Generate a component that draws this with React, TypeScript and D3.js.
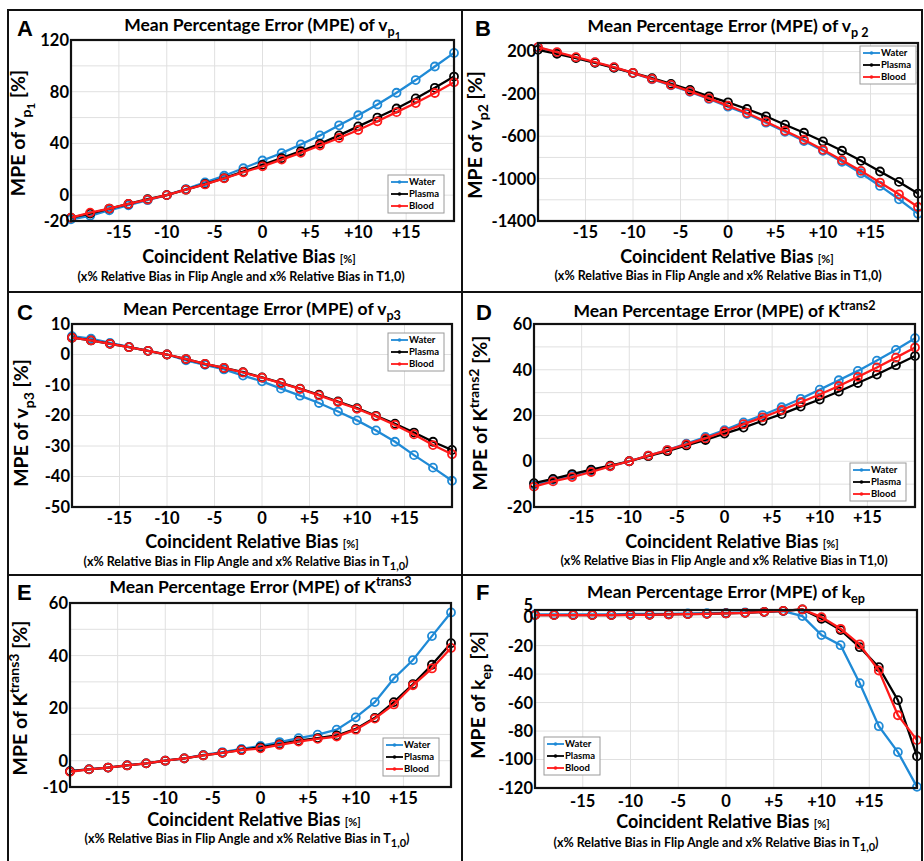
import React, { useEffect, useRef } from "react";
import * as d3 from "d3";

// coincident relative bias [%]
const biasX = [-20, -18, -16, -14, -12, -10, -8, -6, -4, -2, 0, 2, 4, 6, 8, 10, 12, 14, 16, 18, 20];
const xTicks = [-15, -10, -5, 0, 5, 10, 15];
const seriesNames = ["Water", "Plasma", "Blood"];
const seriesColors = ["#1f8ad6", "#000000", "#ff1a1a"];

// A: vp1
const vp1Water = [-18.7, -16, -11.7, -7.8, -3.9, 0, 4.7, 9.9, 15, 20.8, 26.8, 32.5, 39.2, 46.2, 54, 61.8, 70.1, 79.2, 89, 99.5, 110];
const vp1Plasma = [-17.4, -14.3, -10.4, -6.8, -3.1, 0, 4.2, 8.6, 13.2, 18.2, 23.4, 28.6, 34, 39.7, 46.2, 53.2, 60, 67, 74.8, 83, 91.7];
const vp1Blood = [-17.4, -13.5, -10.4, -6.8, -3.4, 0, 4.2, 8.3, 13, 17.7, 22.3, 27.5, 32.7, 38.4, 44.2, 50.4, 57.1, 64.2, 71.2, 79, 87.3];

// B: vp2
const vp2Water = [238, 190, 142, 96, 49, -4, -62, -120, -181, -248, -321, -390, -472, -558, -645, -737, -841, -949, -1069, -1195, -1331];
const vp2Plasma = [216, 178, 137, 93, 45, -2, -52, -106, -163, -223, -280, -343, -412, -491, -567, -649, -737, -832, -933, -1031, -1141];
const vp2Blood = [241, 194, 146, 99, 52, -2, -59, -116, -176, -242, -311, -381, -463, -548, -633, -728, -826, -927, -1037, -1148, -1268];

// C: vp3
const vp3Water = [6.0, 5.2, 3.8, 2.5, 1.2, 0, -1.9, -3.4, -4.9, -6.9, -8.8, -11.2, -13.5, -15.9, -18.7, -21.6, -24.9, -28.6, -33, -37.1, -41.4];
const vp3Plasma = [5.5, 4.6, 3.5, 2.4, 1.2, 0, -1.5, -3.1, -4.4, -5.8, -7.5, -9.3, -11.2, -13.2, -15.4, -17.6, -20.1, -22.7, -25.6, -28.6, -31.3];
const vp3Blood = [5.5, 4.6, 3.5, 2.4, 1.2, 0, -1.5, -3.1, -4.4, -5.9, -7.6, -9.4, -11.3, -13.4, -15.6, -17.8, -20.3, -23.1, -26.2, -29.7, -32.7];

// D: Ktrans2
const kt2Water = [-10.3, -8.1, -6.2, -4.1, -2.2, 0, 2.5, 4.9, 7.7, 10.6, 13.6, 17, 20.2, 23.6, 27.3, 31.3, 35.4, 39.5, 44, 48.7, 53.8];
const kt2Plasma = [-9.6, -7.7, -5.6, -3.7, -1.9, 0, 2.2, 4.4, 6.9, 9.3, 12.1, 14.7, 17.7, 20.6, 23.9, 27, 30.5, 34.2, 37.9, 42, 46];
const kt2Blood = [-11.1, -8.8, -6.9, -4.7, -2.2, 0, 2.5, 4.9, 7.4, 10, 13, 16.2, 19.2, 22.4, 25.8, 29.2, 32.9, 36.9, 41, 45.3, 49.7];

// E: Ktrans3
const kt3Water = [-4, -3.2, -2.6, -1.7, -1, 0, 0.9, 2.2, 3.3, 4.5, 5.6, 7.1, 8.6, 9.9, 11.8, 16.5, 22.3, 31.3, 38.3, 47.4, 56.4];
const kt3Plasma = [-4, -3.3, -2.6, -1.8, -1, 0, 0.9, 2, 3, 4.1, 5.1, 6.3, 7.6, 8.6, 9.6, 12.1, 16.3, 22.3, 29.1, 36.5, 44.7];
const kt3Blood = [-4.2, -3.3, -2.6, -1.8, -1, 0, 0.9, 2, 3, 4, 4.7, 6, 7.3, 8.3, 9.2, 11.8, 16, 21.4, 28.7, 35.1, 42.9];

// F: kep
const kepWater = [1.9, 1.9, 1.9, 1.9, 1.9, 2.3, 2.3, 2.3, 2.6, 2.8, 3, 3.3, 3.7, 4.2, 0.7, -12.6, -19.7, -46.4, -76.6, -94.8, -119.2];
const kepPlasma = [1.4, 1.4, 1.4, 1.4, 1.4, 1.6, 1.6, 1.9, 2.1, 2.3, 2.6, 3, 3.7, 4.4, 5.4, -1.2, -9.1, -21.1, -35.1, -58.3, -97.7];
const kepBlood = [1.4, 1.4, 1.4, 1.4, 1.4, 1.6, 1.6, 1.9, 2.1, 2.3, 2.6, 3, 3.7, 4.4, 5.4, 0, -8.2, -19.2, -37.5, -68.9, -86.4];

type Seg = { t: string; k?: "sub" | "sup" | "sub2" };

const panels = [
  {
    letter: "A", series: [vp1Water, vp1Plasma, vp1Blood],
    yDomain: [-20, 120], yTicks: [-20, 0, 40, 80, 120], yGrid: d3.range(-20, 121, 20),
    title: [{ t: "Mean Percentage Error (MPE) of v" }, { t: "p", k: "sub" }, { t: "1", k: "sub2" }] as Seg[],
    ylabel: [{ t: "MPE of v" }, { t: "p", k: "sub" }, { t: "1", k: "sub2" }, { t: "  [%]" }] as Seg[],
    tSub: false,
  },
  {
    letter: "B", series: [vp2Water, vp2Plasma, vp2Blood],
    yDomain: [-1400, 280], yTicks: [-1400, -1000, -600, -200, 200], yGrid: d3.range(-1400, 201, 200),
    title: [{ t: "Mean Percentage Error (MPE) of v" }, { t: "p 2", k: "sub" }] as Seg[],
    ylabel: [{ t: "MPE of v" }, { t: "p2", k: "sub" }, { t: " [%]" }] as Seg[],
    tSub: false,
  },
  {
    letter: "C", series: [vp3Water, vp3Plasma, vp3Blood],
    yDomain: [-50, 10], yTicks: d3.range(-50, 11, 10), yGrid: d3.range(-50, 11, 10),
    title: [{ t: "Mean Percentage Error (MPE) of v" }, { t: "p3", k: "sub" }] as Seg[],
    ylabel: [{ t: "MPE of v" }, { t: "p3", k: "sub" }, { t: "  [%]" }] as Seg[],
    tSub: true,
  },
  {
    letter: "D", series: [kt2Water, kt2Plasma, kt2Blood],
    yDomain: [-20, 60], yTicks: [-20, 0, 20, 40, 60], yGrid: d3.range(-20, 61, 10),
    title: [{ t: "Mean Percentage Error (MPE) of  K" }, { t: "trans2", k: "sup" }] as Seg[],
    ylabel: [{ t: "MPE of K" }, { t: "trans2", k: "sup" }, { t: "  [%]" }] as Seg[],
    tSub: false,
  },
  {
    letter: "E", series: [kt3Water, kt3Plasma, kt3Blood],
    yDomain: [-10, 60], yTicks: [-10, 0, 20, 40, 60], yGrid: d3.range(-10, 61, 10),
    title: [{ t: "Mean Percentage Error (MPE) of  K" }, { t: "trans3", k: "sup" }] as Seg[],
    ylabel: [{ t: "MPE of K" }, { t: "trans3", k: "sup" }, { t: " [%]" }] as Seg[],
    tSub: true,
  },
  {
    letter: "F", series: [kepWater, kepPlasma, kepBlood],
    yDomain: [-120, 5], yTicks: [-120, -100, -80, -60, -40, -20, 0, 5], yGrid: d3.range(-120, 1, 20),
    title: [{ t: "Mean Percentage Error (MPE) of  k" }, { t: "ep", k: "sub" }] as Seg[],
    ylabel: [{ t: "MPE of k" }, { t: "ep", k: "sub" }, { t: " [%]" }] as Seg[],
    tSub: true,
  },
];

// layout of each panel: plot box, label rows, legend box
const layouts = [
  { px: [71, 454], py: [40, 221], titleY: 31, tickY: 238, xlab: [249, 263], sub: [241, 281], ylab: [25, 133], legend: [388, 175], letter: [17, 36] },
  { px: [538, 918], py: [43, 221], titleY: 32, tickY: 238, xlab: [727, 263], sub: [718, 280], ylab: [482, 135], legend: [860, 46], letter: [475, 36] },
  { px: [72, 452], py: [324, 507], titleY: 315, tickY: 524, xlab: [252, 548], sub: [246, 566], ylab: [28, 423], legend: [388, 333], letter: [17, 320] },
  { px: [534, 915], py: [324, 507], titleY: 317, tickY: 523, xlab: [732, 548], sub: [724, 565], ylab: [487, 413], legend: [850, 463], letter: [476, 320] },
  { px: [70, 451], py: [603, 787], titleY: 593, tickY: 804, xlab: [254, 826], sub: [247, 843], ylab: [27, 698], legend: [383, 738], letter: [17, 600] },
  { px: [535, 917], py: [610, 788], titleY: 598, tickY: 807, xlab: [723, 828], sub: [716, 847], ylab: [485, 695], legend: [544, 737], letter: [476, 600] },
];

const FONT = "Lato, 'Open Sans', sans-serif";

function rich(text: any, segs: Seg[], size: number) {
  let shift = 0;
  segs.forEach((s) => {
    const target = s.k === "sub" ? size * 0.3 : s.k === "sup" ? -size * 0.42 : s.k === "sub2" ? size * 0.5 : 0;
    const fs = s.k === "sub2" ? size * 0.6 : s.k ? size * 0.72 : size;
    text.append("tspan").attr("dy", target - shift).attr("font-size", fs).text(s.t);
    shift = target;
  });
}

const App = () => {
  const svgRef = useRef<SVGSVGElement>(null);

  useEffect(() => {
    const svg = d3.select(svgRef.current);
    svg.selectAll("*").remove();
    svg.append("rect").attr("width", 924).attr("height", 861).attr("fill", "#fff");

    panels.forEach((p, i) => {
      const L = layouts[i];
      const g = svg.append("g").attr("font-family", FONT).attr("font-weight", "bold");
      const x = d3.scaleLinear().domain([-20, 20]).range(L.px);
      const y = d3.scaleLinear().domain(p.yDomain).range([L.py[1], L.py[0]]);

      // grid
      g.selectAll(".gx").data(xTicks).enter().append("line")
        .attr("x1", (d) => x(d)).attr("x2", (d) => x(d)).attr("y1", L.py[0]).attr("y2", L.py[1])
        .attr("stroke", "#e0e0e0").attr("stroke-width", 1);
      g.selectAll(".gy").data(p.yGrid).enter().append("line")
        .attr("x1", L.px[0]).attr("x2", L.px[1]).attr("y1", (d) => y(d)).attr("y2", (d) => y(d))
        .attr("stroke", "#e0e0e0").attr("stroke-width", 1);

      // series
      const line = d3.line<number>().x((_, j) => x(biasX[j])).y((d) => y(d));
      p.series.forEach((vals, s) => {
        g.append("path").attr("d", line(vals)).attr("fill", "none")
          .attr("stroke", seriesColors[s]).attr("stroke-width", 2.3);
        g.selectAll(".m" + s).data(vals).enter().append("circle")
          .attr("cx", (_, j) => x(biasX[j])).attr("cy", (d) => y(d)).attr("r", 4)
          .attr("fill", "none").attr("stroke", seriesColors[s]).attr("stroke-width", 1.8);
      });

      // axes box
      g.append("rect").attr("x", L.px[0]).attr("y", L.py[0])
        .attr("width", L.px[1] - L.px[0]).attr("height", L.py[1] - L.py[0])
        .attr("fill", "none").attr("stroke", "#111").attr("stroke-width", 2.2);

      // tick labels
      g.selectAll(".ty").data(p.yTicks).enter().append("text")
        .attr("x", L.px[0] - 2).attr("y", (d) => y(d) - (d === 5 ? 5 : 0)).attr("dy", "0.36em")
        .attr("text-anchor", "end").attr("font-size", 16.5).text((d) => String(d));
      g.selectAll(".tx").data(xTicks).enter().append("text")
        .attr("x", (d) => x(d)).attr("y", L.tickY).attr("text-anchor", "middle").attr("font-size", 16.5)
        .text((d) => (d > 0 ? "+" + d : String(d)));

      // title
      const cx = (L.px[0] + L.px[1]) / 2;
      const t = g.append("text").attr("x", cx).attr("y", L.titleY).attr("text-anchor", "middle")
        .attr("font-size", 17.5);
      rich(t, p.title, 17.5);

      // x label
      const xl = g.append("text").attr("x", L.xlab[0]).attr("y", L.xlab[1]).attr("text-anchor", "middle").attr("font-size", 18);
      xl.append("tspan").text("Coincident Relative Bias ");
      xl.append("tspan").attr("font-size", 11).text("[%]");

      const sub = g.append("text").attr("x", L.sub[0]).attr("y", L.sub[1]).attr("text-anchor", "middle").attr("font-size", 12.5);
      if (p.tSub) {
        sub.append("tspan").text("(x% Relative Bias in Flip Angle and x% Relative Bias in T");
        sub.append("tspan").attr("dy", 4).attr("font-size", 11).text("1,0");
        sub.append("tspan").attr("dy", -4).text(")");
      } else {
        sub.text("(x% Relative Bias in Flip Angle and x% Relative Bias in T1,0)");
      }

      // y label
      const yl = g.append("text").attr("transform", `translate(${L.ylab[0]},${L.ylab[1]}) rotate(-90)`)
        .attr("text-anchor", "middle").attr("dy", "0.35em").attr("font-size", 19.5);
      rich(yl, p.ylabel, 19.5);

      // panel letter
      g.append("text").attr("x", L.letter[0]).attr("y", L.letter[1])
        .attr("font-family", "'Liberation Sans', Arial, sans-serif").attr("font-size", 22).text(p.letter);

      // legend
      const lg = g.append("g").attr("transform", `translate(${L.legend[0]},${L.legend[1]})`);
      lg.append("rect").attr("width", 56).attr("height", 38).attr("fill", "#fff")
        .attr("stroke", "#9a9a9a").attr("stroke-width", 1);
      seriesNames.forEach((n, s) => {
        const yy = 7 + s * 12;
        lg.append("line").attr("x1", 3).attr("x2", 20).attr("y1", yy).attr("y2", yy)
          .attr("stroke", seriesColors[s]).attr("stroke-width", 1.8);
        lg.append("circle").attr("cx", 11.5).attr("cy", yy).attr("r", 1.8).attr("fill", seriesColors[s]);
        lg.append("text").attr("x", 21).attr("y", yy).attr("dy", "0.35em").attr("font-size", 9.5).text(n);
      });
    });

    // figure frame
    const frame = svg.append("g").attr("stroke", "#111").attr("stroke-width", 2).attr("fill", "none");
    frame.append("path").attr("d", "M8,861 V10 H922 V861");
    frame.append("line").attr("x1", 462).attr("x2", 462).attr("y1", 10).attr("y2", 861);
    frame.append("line").attr("x1", 8).attr("x2", 922).attr("y1", 292).attr("y2", 292);
    frame.append("line").attr("x1", 8).attr("x2", 922).attr("y1", 575).attr("y2", 575);
  }, []);

  return <svg ref={svgRef} width={924} height={861} style={{ position: "absolute", left: 0, top: 0 }} />;
};

export default App;
